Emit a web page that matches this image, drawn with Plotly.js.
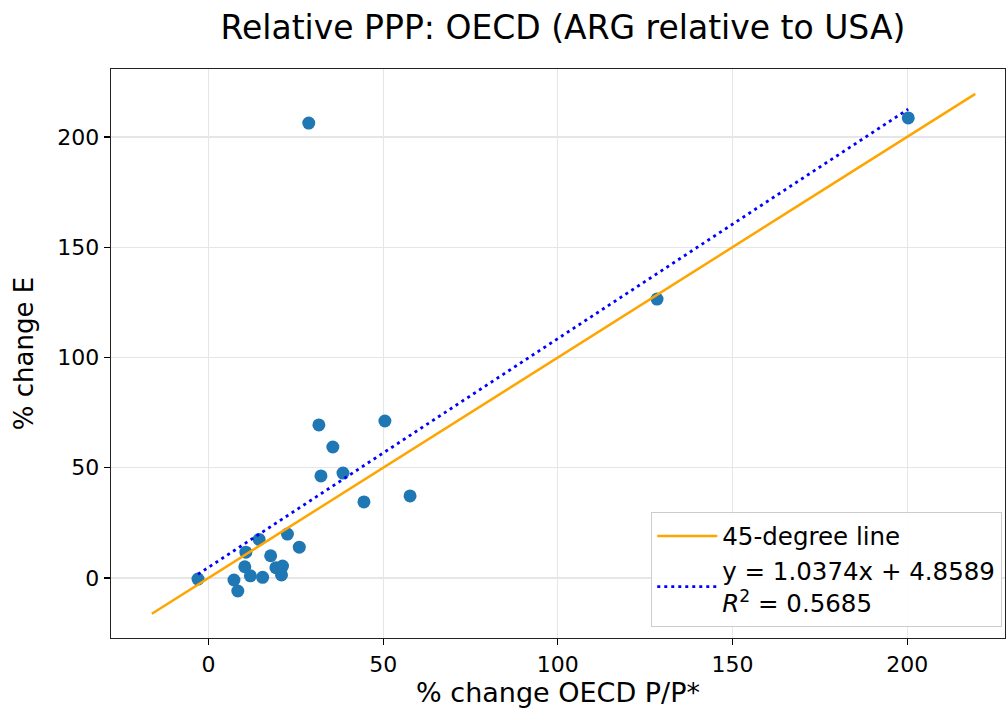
<!DOCTYPE html>
<html>
<head>
<meta charset="utf-8">
<script src="https://cdn.plot.ly/plotly-3.0.1.min.js"></script>
<style>html,body{margin:0;padding:0;background:#fff;}#chart{width:1006px;height:713px;}</style>
</head>
<body>
<div id="chart"></div>
<script>
// Observed data: % change OECD P/P* (x) vs % change E (y)
const priceChange = [-3.0, 28.7, 200.3, 128.4, 31.6, 50.5, 35.6, 38.5, 32.2, 44.5, 57.7,
  14.5, 10.7, 22.6, 26.0, 17.8, 10.4, 12.0, 15.5, 7.3, 8.4, 19.3, 21.2, 20.9];
const exchangeChange = [-0.5, 206.3, 208.6, 126.5, 69.4, 71.2, 59.4, 47.6, 46.3, 34.5, 37.2,
  17.5, 11.7, 19.9, 14.0, 10.1, 5.1, 1.0, 0.3, -0.9, -5.9, 4.7, 5.4, 1.4];

// 45-degree reference line endpoints
const refX = [-16.2, 219.5];
const refY = [-16.2, 219.5];

// Fitted regression line endpoints (y = 1.0374x + 4.8589)
const fitX = [-3.0, 200.3];
const fitY = [1.7, 212.6];

const fitLabel = "y = 1.0374x + 4.8589<br><i>R</i><sup>2</sup> = 0.5685";
const tickVals = [0, 50, 100, 150, 200];

const traces = [
  {x: priceChange, y: exchangeChange, type: 'scatter', mode: 'markers',
   marker: {color: '#1f77b4', size: 13}, showlegend: false, hoverinfo: 'x+y'},
  {x: refX, y: refY, type: 'scatter', mode: 'lines', name: '45-degree line',
   line: {color: '#FFA500', width: 2.5}},
  {x: fitX, y: fitY, type: 'scatter', mode: 'lines', name: fitLabel,
   line: {color: '#0000FF', width: 2.8, dash: '3px,4px'}}
];

const fam = 'DejaVu Sans, sans-serif';
const layout = {
  width: 1006, height: 713,
  margin: {l: 111, r: 1, t: 69, b: 75},
  paper_bgcolor: '#fff', plot_bgcolor: '#fff',
  font: {family: fam, size: 22, color: '#000'},
  title: {text: 'Relative PPP: OECD (ARG relative to USA)', x: 0.5596, xanchor: 'center',
          y: 0.961, yanchor: 'middle', font: {family: fam, size: 33, color: '#000'}},
  xaxis: {range: [-27.9, 228], tickvals: tickVals, ticks: 'outside', ticklen: 6, tickwidth: 1.3,
          tickcolor: '#000', showline: true, linecolor: '#222', linewidth: 1.4, mirror: true,
          showgrid: true, gridcolor: '#e6e6e6', gridwidth: 1.3, zeroline: false,
          tickfont: {size: 22},
          title: {text: '% change OECD P/P*', font: {size: 27}, standoff: 4}},
  yaxis: {range: [-27.2, 230.8], tickvals: tickVals, ticks: 'outside', ticklen: 6, tickwidth: 1.3,
          tickcolor: '#000', showline: true, linecolor: '#222', linewidth: 1.4, mirror: true,
          showgrid: true, gridcolor: '#e6e6e6', gridwidth: 1.3, zeroline: false,
          tickfont: {size: 22},
          title: {text: '% change E', font: {size: 26}, standoff: 16}},
  legend: {x: 0.9966, y: 0.019, xanchor: 'right', yanchor: 'bottom',
           bgcolor: 'rgba(255,255,255,0.85)', bordercolor: '#cccccc', borderwidth: 1.3,
           font: {size: 24.5}, tracegroupgap: 2, itemwidth: 60},
  showlegend: true
};

Plotly.newPlot('chart', traces, layout, {displayModeBar: false, staticPlot: true});
</script>
</body>
</html>
